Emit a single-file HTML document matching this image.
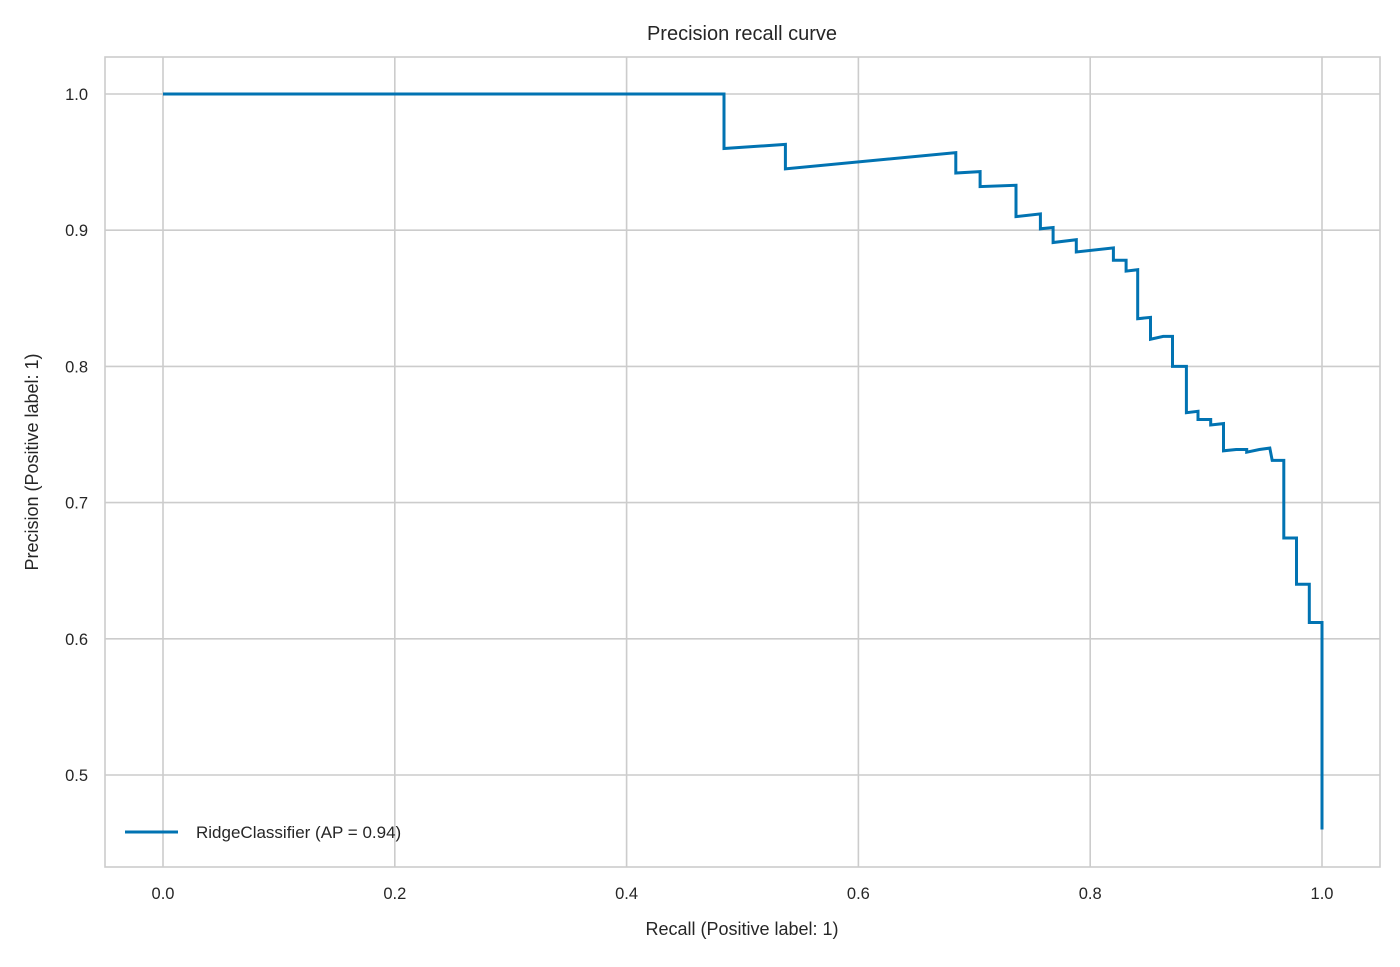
<!DOCTYPE html>
<html><head><meta charset="utf-8"><style>
body{margin:0;background:#fff;}
svg text{font-family:"Liberation Sans",sans-serif;fill:#262626;}
</style></head><body>
<svg id="chart" width="1400" height="962" xmlns="http://www.w3.org/2000/svg">
<rect width="1400" height="962" fill="#fff"/>
<g id="grid"></g>
<rect x="105" y="57" width="1275" height="810" fill="none" stroke="#cccccc" stroke-width="1.6"/>
<g id="ticks"></g>
<path id="curve" fill="none" stroke="#0173b2" stroke-width="3" stroke-linejoin="miter"/>
<text x="742" y="40" font-size="20" text-anchor="middle">Precision recall curve</text>
<text x="742" y="935" font-size="18" text-anchor="middle">Recall (Positive label: 1)</text>
<text transform="translate(38,462) rotate(-90)" font-size="18" text-anchor="middle">Precision (Positive label: 1)</text>
<g>
<line x1="125" y1="832" x2="178" y2="832" stroke="#0173b2" stroke-width="3"/>
<text x="196" y="838" font-size="17">RidgeClassifier (AP = 0.94)</text>
</g>
</svg>
<script>
const xTicks=[0,0.2,0.4,0.6,0.8,1.0];
const xTickLabels=["0.0","0.2","0.4","0.6","0.8","1.0"];
const yTicks=[0.5,0.6,0.7,0.8,0.9,1.0];
const yTickLabels=["0.5","0.6","0.7","0.8","0.9","1.0"];
const recall=[0,0.484,0.484,0.537,0.537,0.684,0.684,0.705,0.705,0.736,0.736,0.757,0.757,0.768,0.768,0.788,0.788,0.820,0.820,0.831,0.831,0.841,0.841,0.852,0.852,0.863,0.871,0.871,0.883,0.883,0.893,0.893,0.904,0.904,0.915,0.915,0.926,0.935,0.935,0.946,0.955,0.957,0.967,0.967,0.978,0.978,0.989,0.989,1.0,1.0];
const precision=[1.0,1.0,0.960,0.963,0.945,0.957,0.942,0.943,0.932,0.933,0.910,0.912,0.901,0.902,0.891,0.893,0.884,0.887,0.878,0.878,0.870,0.871,0.835,0.836,0.820,0.822,0.822,0.800,0.800,0.766,0.767,0.761,0.761,0.757,0.758,0.738,0.739,0.739,0.737,0.739,0.740,0.731,0.731,0.674,0.674,0.640,0.640,0.612,0.612,0.460];
const X=v=>163+v*1159, Y=v=>94+(1-v)*1362;
const NS="http://www.w3.org/2000/svg";
const grid=document.getElementById('grid'), ticks=document.getElementById('ticks');
function mk(tag,attrs,parent){const e=document.createElementNS(NS,tag);for(const k in attrs)e.setAttribute(k,attrs[k]);parent.appendChild(e);return e;}
xTicks.forEach((t,i)=>{
  const l=mk('line',{x1:X(t),x2:X(t),y1:57,y2:867,stroke:'#cccccc','stroke-width':1.6},grid);
  
  
  const tx=mk('text',{x:X(t),y:899,'font-size':16.5,'text-anchor':'middle'},ticks);
  tx.textContent=xTickLabels[i];
  
  
});
yTicks.forEach((t,i)=>{
  const l=mk('line',{x1:105,x2:1380,y1:Y(t),y2:Y(t),stroke:'#cccccc','stroke-width':1.6},grid);
  
  
  const tx=mk('text',{x:88,y:Y(t)+6,'font-size':16.5,'text-anchor':'end'},ticks);
  tx.textContent=yTickLabels[i];
  
  
});
document.getElementById('curve').setAttribute('d',recall.map((r,i)=>(i?'L':'M')+X(r).toFixed(1)+','+Y(precision[i]).toFixed(1)).join(''));
</script>
</body></html>
